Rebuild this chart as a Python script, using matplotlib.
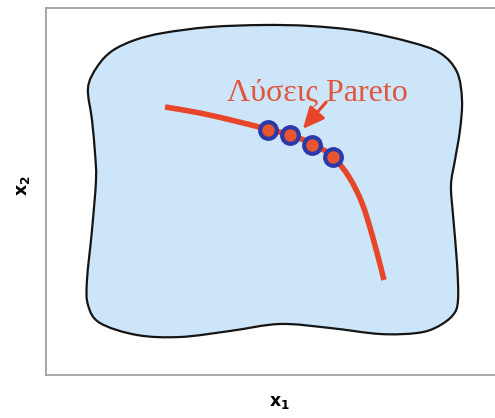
import numpy as np
import matplotlib
matplotlib.use("Agg")
import matplotlib.pyplot as plt
from matplotlib.path import Path
from matplotlib.patches import PathPatch, FancyArrowPatch

plt.rcParams['mathtext.fontset'] = 'dejavusans'

# Feasible region outline (image-like coordinates, y downward)
region_x = [97, 112, 135, 163, 210, 263, 310, 360, 410, 440, 457, 462, 460, 455, 451, 453,
            457, 458, 453, 437, 417, 380, 330, 280, 230, 180, 137, 100, 88, 87, 92,
            96, 95, 92, 88]
region_y = [67, 51, 40, 33, 27, 25, 26, 31, 42, 53, 72, 100, 130, 160, 185, 215,
            263, 300, 315, 327, 333, 334, 328, 324, 331, 337, 335, 323, 305, 280, 230,
            180, 153, 120, 88]

# Pareto front curve
front_x = [165, 200, 235, 263, 290, 313, 333, 349, 362, 373, 384]
front_y = [107, 113, 121, 128, 135, 144, 157, 177, 203, 238, 280]

# Pareto solutions
sol_x = [268, 290, 312, 333]
sol_y = [130, 135, 145, 157]

label_text = "Λύσεις Pareto"
xlabel = r'$\mathbf{x}_{\mathbf{1}}$'
ylabel = r'$\mathbf{x}_{\mathbf{2}}$'


def catmull_bezier(xs, ys, closed):
    pts = np.column_stack([xs, ys]).astype(float)
    n = len(pts)
    verts = [pts[0]]
    codes = [Path.MOVETO]
    segs = n if closed else n - 1
    for i in range(segs):
        p0 = pts[(i - 1) % n] if (closed or i > 0) else pts[i]
        p1 = pts[i % n]
        p2 = pts[(i + 1) % n]
        p3 = pts[(i + 2) % n] if (closed or i + 2 < n) else pts[(i + 1) % n]
        c1 = p1 + (p2 - p0) / 6.0
        c2 = p2 - (p3 - p1) / 6.0
        verts += [c1, c2, p2]
        codes += [Path.CURVE4] * 3
    if closed:
        verts.append(pts[0])
        codes.append(Path.CLOSEPOLY)
    return Path(verts, codes)


fig = plt.figure(figsize=(4.95, 4.18), dpi=100)
ax = fig.add_axes([46 / 495, 1 - 375 / 418, 1 - 46 / 495, (375 - 8) / 418])
ax.set_xlim(46, 495)
ax.set_ylim(375, 8)
ax.set_xticks([])
ax.set_yticks([])
for s in ['left', 'top', 'bottom']:
    ax.spines[s].set_color('#a0a0a0')
    ax.spines[s].set_linewidth(1.3)
ax.spines['right'].set_visible(False)

region = PathPatch(catmull_bezier(region_x, region_y, True), facecolor='#cde5f8',
                   edgecolor='#151515', lw=1.6, zorder=1)
ax.add_patch(region)

front = PathPatch(catmull_bezier(front_x, front_y, False), facecolor='none',
                  edgecolor='#e8462b', lw=4.0, capstyle='butt', zorder=2)
ax.add_patch(front)

ax.plot(sol_x, sol_y, 'o', ms=12, mfc='#e8552f', mec='#2b3aa8', mew=3.0,
        ls='none', zorder=3)

ax.text(317, 93, label_text, family=['Liberation Serif', 'DejaVu Serif'],
        fontsize=23, color='#e0553b', ha='center', va='center', zorder=4)

arrow = FancyArrowPatch((328, 100), (301, 131),
                        arrowstyle='-|>,head_length=13,head_width=6',
                        mutation_scale=1, color='#e8462b', lw=2.2, zorder=4)
ax.add_patch(arrow)

fig.text(279 / 495, 1 - 402 / 418, xlabel, fontsize=12.5, ha='center', va='center')
fig.text(23 / 495, 1 - 186 / 418, ylabel, fontsize=12.5, ha='center', va='center',
         rotation=90)

fig.savefig('out.png', dpi=100)
